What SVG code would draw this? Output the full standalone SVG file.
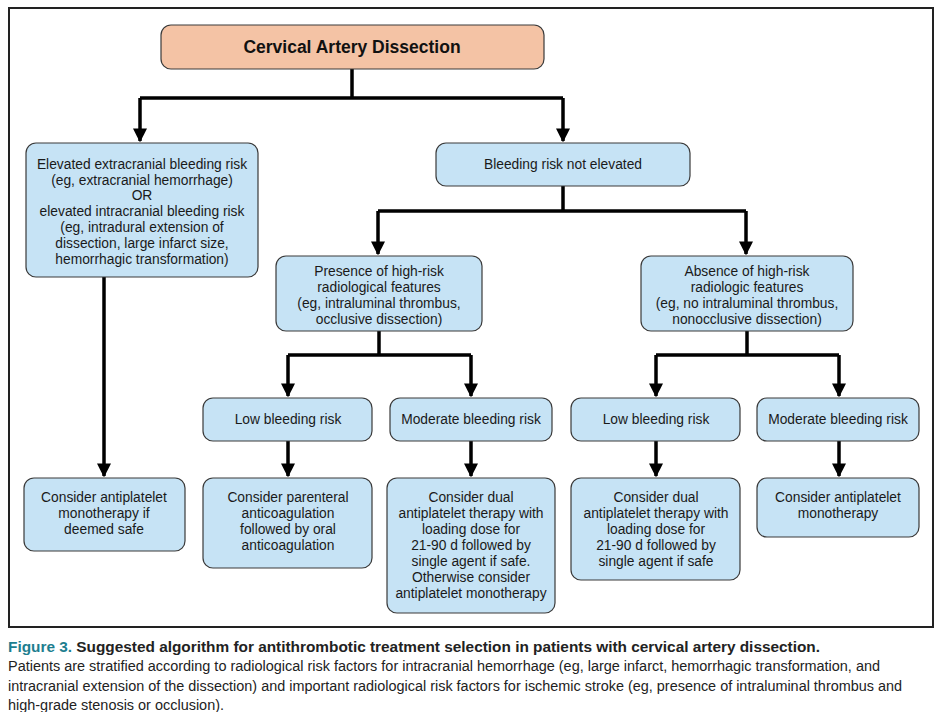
<svg xmlns="http://www.w3.org/2000/svg" width="936" height="712" viewBox="0 0 936 712">
<defs>
<style>
.box{fill:#c6e3f5;stroke:#3a3a3a;stroke-width:1.2}
.t{font-family:"Liberation Sans",Arial,sans-serif;font-size:13.8px;fill:#1a1a1a;text-anchor:middle}
.c{stroke:#000;stroke-width:3.5;fill:none}
.cap{font-family:"Liberation Sans",Arial,sans-serif;font-size:14px;fill:#222}
</style>
<marker id="ah" viewBox="0 0 10 10" refX="9" refY="5" markerWidth="4" markerHeight="4" orient="auto" markerUnits="strokeWidth">
<path d="M0,0 L10,5 L0,10 z" fill="#000"/>
</marker>
</defs>
<rect width="936" height="712" fill="#fff"/>
<rect x="9" y="8" width="924" height="619" fill="none" stroke="#222" stroke-width="2"/>

<g id="connectors">
<path class="c" d="M352,69 V98 M140,98 H563"/>
<path class="c" d="M140,98 V141" marker-end="url(#ah)"/>
<path class="c" d="M563,98 V141" marker-end="url(#ah)"/>
<path class="c" d="M104,277 V476" marker-end="url(#ah)"/>
<path class="c" d="M563,186 V211 M378,211 H746"/>
<path class="c" d="M378,211 V254" marker-end="url(#ah)"/>
<path class="c" d="M746,211 V254" marker-end="url(#ah)"/>
<path class="c" d="M379,331 V355 M288,355 H471"/>
<path class="c" d="M288,355 V396" marker-end="url(#ah)"/>
<path class="c" d="M471,355 V396" marker-end="url(#ah)"/>
<path class="c" d="M747,331 V355 M656,355 H839"/>
<path class="c" d="M656,355 V396" marker-end="url(#ah)"/>
<path class="c" d="M839,355 V396" marker-end="url(#ah)"/>
<path class="c" d="M288,441 V476" marker-end="url(#ah)"/>
<path class="c" d="M471,441 V476" marker-end="url(#ah)"/>
<path class="c" d="M656,441 V476" marker-end="url(#ah)"/>
<path class="c" d="M839,441 V476" marker-end="url(#ah)"/>
</g>

<g id="root">
<rect x="161" y="25" width="383" height="44" rx="10" fill="#f4c3a5" stroke="#3a3a3a" stroke-width="1.2"/>
<text x="352" y="53" style="font-family:'Liberation Sans',Arial,sans-serif;font-size:17.5px;font-weight:bold;text-anchor:middle;fill:#111">Cervical Artery Dissection</text>
</g>

<g id="elevated">
<rect class="box" x="26" y="143" width="232" height="134" rx="10"/>
<text class="t" x="142" y="169">Elevated extracranial bleeding risk</text>
<text class="t" x="142" y="185">(eg, extracranial hemorrhage)</text>
<text class="t" x="142" y="200">OR</text>
<text class="t" x="142" y="216">elevated intracranial bleeding risk</text>
<text class="t" x="142" y="232">(eg, intradural extension of</text>
<text class="t" x="142" y="248">dissection, large infarct size,</text>
<text class="t" x="142" y="264">hemorrhagic transformation)</text>
</g>

<g id="notElevated">
<rect class="box" x="436" y="143" width="254" height="43" rx="10"/>
<text class="t" x="563" y="169">Bleeding risk not elevated</text>
</g>

<g id="presence">
<rect class="box" x="276" y="256" width="206" height="75" rx="10"/>
<text class="t" x="379" y="276">Presence of high-risk</text>
<text class="t" x="379" y="292">radiological features</text>
<text class="t" x="379" y="308">(eg, intraluminal thrombus,</text>
<text class="t" x="379" y="324">occlusive dissection)</text>
</g>

<g id="absence">
<rect class="box" x="641" y="256" width="212" height="75" rx="10"/>
<text class="t" x="747" y="276">Absence of high-risk</text>
<text class="t" x="747" y="292">radiologic features</text>
<text class="t" x="747" y="308">(eg, no intraluminal thrombus,</text>
<text class="t" x="747" y="324">nonocclusive dissection)</text>
</g>

<g id="low1">
<rect class="box" x="203" y="398" width="169" height="43" rx="10"/>
<text class="t" x="288" y="424">Low bleeding risk</text>
</g>
<g id="mod1">
<rect class="box" x="390" y="398" width="162" height="43" rx="10"/>
<text class="t" x="471" y="424">Moderate bleeding risk</text>
</g>
<g id="low2">
<rect class="box" x="571" y="398" width="169" height="43" rx="10"/>
<text class="t" x="656" y="424">Low bleeding risk</text>
</g>
<g id="mod2">
<rect class="box" x="757" y="398" width="162" height="43" rx="10"/>
<text class="t" x="838" y="424">Moderate bleeding risk</text>
</g>

<g id="monoSafe">
<rect class="box" x="24" y="478" width="161" height="73" rx="10"/>
<text class="t" x="104" y="502">Consider antiplatelet</text>
<text class="t" x="104" y="518">monotherapy if</text>
<text class="t" x="104" y="534">deemed safe</text>
</g>

<g id="parenteral">
<rect class="box" x="203" y="478" width="169" height="90" rx="10"/>
<text class="t" x="288" y="502">Consider parenteral</text>
<text class="t" x="288" y="518">anticoagulation</text>
<text class="t" x="288" y="534">followed by oral</text>
<text class="t" x="288" y="550">anticoagulation</text>
</g>

<g id="dual1">
<rect class="box" x="387" y="478" width="168" height="135" rx="10"/>
<text class="t" x="471" y="502">Consider dual</text>
<text class="t" x="471" y="518">antiplatelet therapy with</text>
<text class="t" x="471" y="534">loading dose for</text>
<text class="t" x="471" y="550">21-90 d followed by</text>
<text class="t" x="471" y="566">single agent if safe.</text>
<text class="t" x="471" y="582">Otherwise consider</text>
<text class="t" x="471" y="598">antiplatelet monotherapy</text>
</g>

<g id="dual2">
<rect class="box" x="571" y="478" width="169" height="102" rx="10"/>
<text class="t" x="656" y="502">Consider dual</text>
<text class="t" x="656" y="518">antiplatelet therapy with</text>
<text class="t" x="656" y="534">loading dose for</text>
<text class="t" x="656" y="550">21-90 d followed by</text>
<text class="t" x="656" y="566">single agent if safe</text>
</g>

<g id="mono">
<rect class="box" x="757" y="478" width="162" height="59" rx="10"/>
<text class="t" x="838" y="502">Consider antiplatelet</text>
<text class="t" x="838" y="518">monotherapy</text>
</g>

<g id="caption">
<text class="cap" x="8" y="652" textLength="812" lengthAdjust="spacingAndGlyphs" style="font-weight:bold"><tspan fill="#1d7e8f">Figure 3.</tspan> Suggested algorithm for antithrombotic treatment selection in patients with cervical artery dissection.</text>
<text class="cap" x="8" y="671" textLength="872" lengthAdjust="spacingAndGlyphs">Patients are stratified according to radiological risk factors for intracranial hemorrhage (eg, large infarct, hemorrhagic transformation, and</text>
<text class="cap" x="8" y="691" textLength="894" lengthAdjust="spacingAndGlyphs">intracranial extension of the dissection) and important radiological risk factors for ischemic stroke (eg, presence of intraluminal thrombus and</text>
<text class="cap" x="8" y="710" textLength="216" lengthAdjust="spacingAndGlyphs">high-grade stenosis or occlusion).</text>
</g>
</svg>
